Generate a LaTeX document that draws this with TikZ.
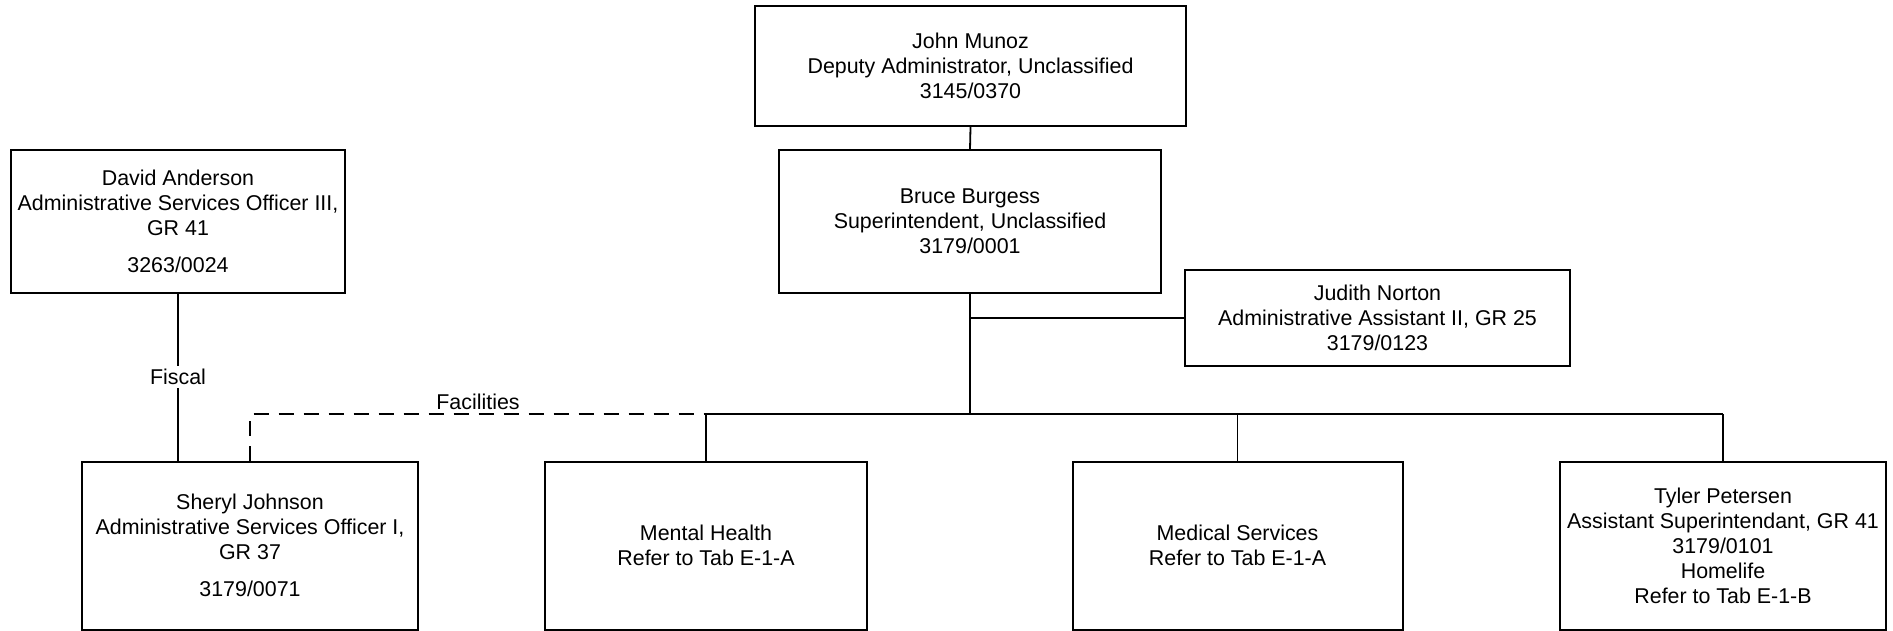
\documentclass[tikz,border=0pt]{standalone}
\usepackage{fontspec}
\setmainfont{Liberation Sans}
\usetikzlibrary{positioning,calc}

\begin{document}
\begin{tikzpicture}[
    x=0.5pt, y=-0.5pt,
    post/.style={rectangle, draw, line width=1pt, align=center, inner sep=0pt, font=\fontsize{10.7}{12.5}\selectfont},
    link/.style={line width=0.9pt},
    dashlink/.style={line width=0.9pt, dash pattern=on 7.5pt off 5pt},
    tag/.style={font=\fontsize{10.7}{12.5}\selectfont, inner sep=1.5pt}
]
\useasboundingbox (0,0) rectangle (1893,631);

\node[post, minimum width=215.5pt, minimum height=60pt] (john) at (970.5,66) {John Munoz\\Deputy Administrator, Unclassified\\3145/0370};
\node[post, minimum width=191pt, minimum height=71.5pt] (bruce) at (970,221.5) {Bruce Burgess\\Superintendent, Unclassified\\3179/0001};
\node[post, minimum width=167pt, minimum height=71.5pt] (david) at (178,221.5) {David Anderson\\Administrative Services Officer III,\\GR 41\\[6pt]3263/0024};
\node[post, minimum width=192.5pt, minimum height=48pt] (judith) at (1377.5,318) {Judith Norton\\Administrative Assistant II, GR 25\\3179/0123};

\node[post, minimum width=168pt, minimum height=84pt] (sheryl) at (250,545.5) {Sheryl Johnson\\Administrative Services Officer I,\\GR 37\\[6pt]3179/0071};
\node[post, minimum width=161pt, minimum height=84pt] (mental) at (706,545.5) {Mental Health\\Refer to Tab E-1-A};
\node[post, minimum width=165pt, minimum height=84pt] (medical) at (1237.5,545.5) {Medical Services\\Refer to Tab E-1-A};
\node[post, minimum width=163pt, minimum height=84pt] (tyler) at (1723,545.5) {Tyler Petersen\\Assistant Superintendant, GR 41\\3179/0101\\Homelife\\Refer to Tab E-1-B};

\coordinate (bus) at (970,414);

% reporting lines
\draw[link] (john.south) -- (bruce.north);
\draw[link] (bruce.south) -- (bus);
\draw[link] (bruce.south |- judith.west) -- (judith.west);
\draw[link] (mental.north |- bus) -- (tyler.north |- bus);
\draw[link] (mental.north |- bus) -- (mental.north);
\draw[link] (medical.north |- bus) -- (medical.north);
\draw[link] (tyler.north |- bus) -- (tyler.north);

% functional lines
\draw[link] (david.south) -- node[tag, fill=white] {Fiscal} (david.south |- sheryl.north);
\draw[dashlink] (sheryl.north) |- node[tag, pos=0.75, above] {Facilities} (mental.north |- bus);
\end{tikzpicture}
\end{document}
